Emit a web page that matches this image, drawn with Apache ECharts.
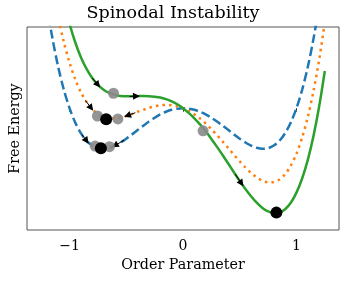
<!DOCTYPE html>
<html>
<head>
<meta charset="utf-8">
<script src="https://cdn.jsdelivr.net/npm/echarts@6/dist/echarts.min.js"></script>
<style>html,body{margin:0;padding:0;background:#fff;}#c{width:346px;height:281px;}</style>
</head>
<body>
<div id="c"></div>
<script>
// Order parameter samples
var orderParam = [-1.25,-1.20,-1.15,-1.10,-1.05,-1.00,-0.95,-0.90,-0.85,-0.80,-0.75,-0.70,-0.65,-0.60,-0.55,-0.50,-0.45,-0.40,-0.35,-0.30,-0.25,-0.20,-0.15,-0.10,-0.05,0.00,
  0.05,0.10,0.15,0.20,0.25,0.30,0.35,0.40,0.45,0.50,0.55,0.60,0.65,0.70,0.75,0.80,0.85,0.90,0.95,1.00,1.05,1.10,1.15,1.20,1.25];
// Free energy
var energyBlue = [0.879,0.634,0.427,0.254,0.113,0.000,-0.088,-0.154,-0.201,-0.230,-0.246,-0.250,-0.244,-0.230,-0.211,-0.188,-0.162,-0.134,-0.108,-0.082,-0.059,-0.038,-0.022,-0.010,-0.003,0.000,
  -0.003,-0.010,-0.022,-0.038,-0.059,-0.082,-0.108,-0.134,-0.162,-0.188,-0.211,-0.230,-0.244,-0.250,-0.246,-0.230,-0.201,-0.154,-0.088,0.000,0.113,0.254,0.427,0.634,0.879];
var energyOrange = [1.229,0.970,0.749,0.562,0.407,0.280,0.178,0.098,0.038,-0.006,-0.036,-0.054,-0.062,-0.062,-0.057,-0.048,-0.036,-0.022,-0.010,0.002,0.011,0.018,0.020,0.018,0.012,0.000,
  -0.017,-0.038,-0.064,-0.094,-0.129,-0.166,-0.206,-0.246,-0.288,-0.328,-0.365,-0.398,-0.426,-0.446,-0.456,-0.454,-0.439,-0.406,-0.354,-0.280,-0.181,-0.054,0.105,0.298,0.529];
var energyGreen = [1.529,1.258,1.025,0.826,0.659,0.520,0.406,0.314,0.242,0.186,0.144,0.114,0.094,0.082,0.075,0.073,0.073,0.074,0.075,0.074,0.071,0.066,0.056,0.042,0.024,0.000,
  -0.029,-0.062,-0.100,-0.142,-0.189,-0.238,-0.290,-0.342,-0.396,-0.448,-0.497,-0.542,-0.582,-0.614,-0.636,-0.646,-0.643,-0.622,-0.582,-0.520,-0.433,-0.318,-0.172,0.010,0.229];
// Particle positions
var grayDots = [[-0.613,0.092],[0.177,-0.139],[-0.754,-0.048],[-0.574,-0.066],[-0.774,-0.233],[-0.648,-0.237]];
var blackDots = [[-0.677,-0.068],[-0.724,-0.247],[0.823,-0.643]];
// Arrows (from -> to)
var arrowFrom = [[-0.80,0.186],[-0.47,0.072],[0.46,-0.406],[-0.86,0.048],[-0.42,-0.028],[-0.89,-0.163],[-0.52,-0.197]];
var arrowTo   = [[-0.75,0.144],[-0.41,0.074],[0.515,-0.463],[-0.81,0.001],[-0.49,-0.045],[-0.85,-0.201],[-0.60,-0.230]];
var xTicks = [-1,0,1];

function pairs(xs, ys){ return xs.map(function(x,i){ return [x, ys[i]]; }); }
var font = 'DejaVu Serif';
var chart = echarts.init(document.getElementById('c'), null, {renderer:'canvas'});
chart.setOption({
  animation: false,
  title: {text:'Spinodal Instability', left:'center', top:-1,
    textStyle:{fontFamily:font, fontSize:17.5, fontWeight:'normal', color:'#000'}},
  grid: {left:27, right:7, top:27, bottom:51, show:true, borderColor:'#555', borderWidth:1, backgroundColor:'transparent'},
  xAxis: {type:'value', min:-1.375, max:1.375,
    name:'Order Parameter', nameLocation:'middle', nameGap:27,
    nameTextStyle:{fontFamily:font, fontSize:14.3, color:'#000'},
    axisLine:{show:false}, splitLine:{show:false},
    axisTick:{show:true, customValues:xTicks, length:3.5, lineStyle:{color:'#333', width:1}},
    axisLabel:{customValues:xTicks, margin:9, fontFamily:font, fontSize:14, color:'#000',
      formatter:function(v){ return v<0 ? '\u2212'+Math.abs(v) : String(v); }}},
  yAxis: {type:'value', min:-0.75, max:0.5,
    name:'Free Energy', nameLocation:'middle', nameGap:5,
    nameTextStyle:{fontFamily:font, fontSize:14.3, color:'#000'},
    axisLine:{show:false}, axisTick:{show:false}, axisLabel:{show:false}, splitLine:{show:false}},
  series: [
    {type:'line', data:pairs(orderParam, energyBlue), showSymbol:false, smooth:0.3, z:2,
      lineStyle:{color:'#1f77b4', width:2.5, type:[9,4]}},
    {type:'line', data:pairs(orderParam, energyOrange), showSymbol:false, smooth:0.3, z:2,
      lineStyle:{color:'#ff7f0e', width:2.5, type:[2.5,4.1]}},
    {type:'line', data:pairs(orderParam, energyGreen), showSymbol:false, smooth:0.3, z:2,
      lineStyle:{color:'#2ca02c', width:2.5}},
    {type:'lines', coordinateSystem:'cartesian2d', z:4,
      data: arrowFrom.map(function(p,i){ return {coords:[p, arrowTo[i]]}; }),
      symbol:['none','triangle'], symbolSize:7,
      lineStyle:{color:'#000', width:1, opacity:1}},
    {type:'scatter', data:grayDots, symbolSize:11, z:5,
      itemStyle:{color:'#8a8a8a', opacity:0.9}},
    {type:'scatter', data:blackDots, symbolSize:12, z:6,
      itemStyle:{color:'#000', opacity:1}}
  ]
});
</script>
</body>
</html>
